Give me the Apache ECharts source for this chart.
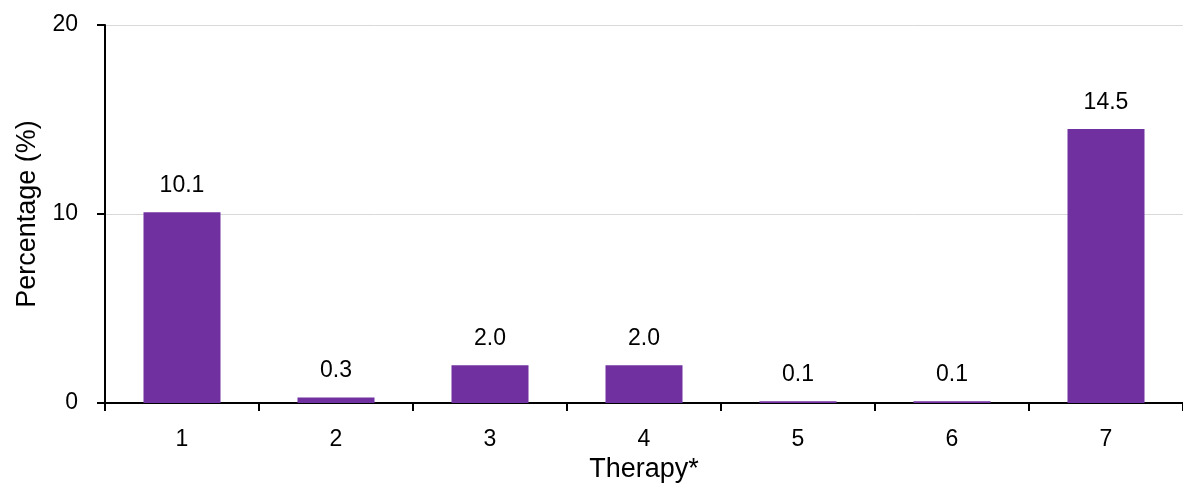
<!DOCTYPE html>
<html>
<head>
<meta charset="utf-8">
<script src="https://cdn.jsdelivr.net/npm/echarts@6/dist/echarts.min.js"></script>
<style>html,body{margin:0;padding:0;background:#fff;overflow:hidden;}#c{width:1183px;height:488px;}</style>
</head>
<body>
<div id="c"></div>
<script>
var categories = ['1', '2', '3', '4', '5', '6', '7'];
var values = [10.1, 0.3, 2.0, 2.0, 0.1, 0.1, 14.5];
var yTicks = [0, 10, 20];

var FONT = '"Liberation Sans", Arial, sans-serif';
var chart = echarts.init(document.getElementById('c'), null, {renderer: 'canvas', width: 1183, height: 488});
chart.setOption({
  animation: false,
  backgroundColor: '#ffffff',
  grid: {left: 105, right: -2, top: 25, height: 385.5, containLabel: false},
  xAxis: {
    type: 'category',
    data: categories,
    boundaryGap: true,
    name: 'Therapy*',
    nameLocation: 'middle',
    nameGap: 47,
    nameTextStyle: {fontFamily: FONT, fontSize: 27, color: '#000'},
    axisLine: {lineStyle: {color: '#000', width: 2}},
    axisTick: {show: true, length: 8, lineStyle: {color: '#000', width: 2}},
    axisLabel: {fontFamily: FONT, fontSize: 23, color: '#000', margin: 25},
    splitLine: {show: false}
  },
  yAxis: {
    type: 'value',
    min: yTicks[0],
    max: yTicks[yTicks.length - 1],
    interval: yTicks[1] - yTicks[0],
    name: 'Percentage (%)',
    nameLocation: 'middle',
    nameGap: 62,
    nameTextStyle: {fontFamily: FONT, fontSize: 27, color: '#000'},
    axisLine: {show: true, lineStyle: {color: '#000', width: 2}},
    axisTick: {show: true, length: 8, lineStyle: {color: '#000', width: 2}},
    axisLabel: {fontFamily: FONT, fontSize: 23, color: '#000', margin: 27},
    splitLine: {show: true, lineStyle: {color: '#d9d9d9', width: 1}}
  },
  series: [{
    type: 'bar',
    data: values,
    barWidth: '50%',
    itemStyle: {color: '#7030A0'},
    label: {
      show: true,
      position: 'top',
      distance: 15,
      fontFamily: FONT,
      fontSize: 23,
      color: '#000',
      formatter: function (p) { return p.value.toFixed(1); }
    }
  }]
});
</script>
</body>
</html>
